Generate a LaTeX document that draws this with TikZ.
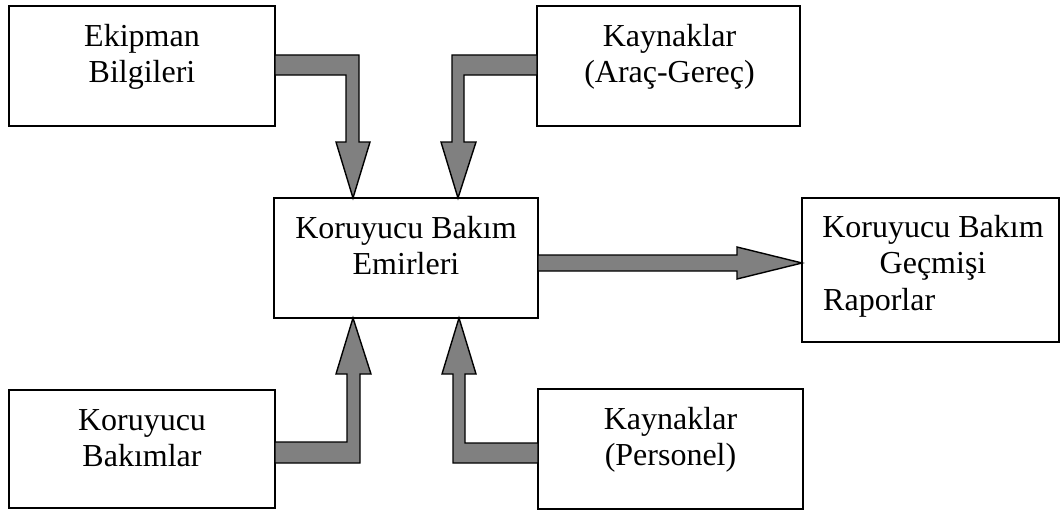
\documentclass[tikz,border=0pt]{standalone}
\usepackage{fontspec}
\setmainfont{Liberation Serif}
\usetikzlibrary{calc}
\begin{document}
\begin{tikzpicture}[x=1pt,y=-1pt,
  box/.style={draw=black,fill=white,line width=1.8pt,inner sep=0pt,outer sep=0pt,anchor=north west},
  txt/.style={anchor=base,inner sep=0pt,font=\fontsize{32}{36}\selectfont},
  barrow/.style={draw=black,fill=black!50,line width=1.4pt,line join=miter}]
\useasboundingbox (0,0) rectangle (1064,511);

% boxes
\node[box,minimum width=266pt,minimum height=120pt] (ekip) at (9,6) {};
\node[box,minimum width=263pt,minimum height=120pt] (kayA) at (537,6) {};
\node[box,minimum width=264pt,minimum height=120pt] (ctr)  at (274,198) {};
\node[box,minimum width=257pt,minimum height=144pt] (hist) at (802,198) {};
\node[box,minimum width=266pt,minimum height=118pt] (bak)  at (9,390) {};
\node[box,minimum width=265pt,minimum height=120pt] (pers) at (538,389) {};

% labels
\node[txt] at ($(ekip.north)+(0,40)$) {Ekipman};
\node[txt] at ($(ekip.north)+(0,76)$) {Bilgileri};
\node[txt] at ($(kayA.north)+(1,40)$) {Kaynaklar};
\node[txt] at ($(kayA.north)+(1,76)$) {(Araç-Gereç)};
\node[txt] at ($(ctr.north)+(0,40)$) {Koruyucu Bakım};
\node[txt] at ($(ctr.north)+(0,76)$) {Emirleri};
\node[txt] at ($(hist.north)+(2.5,39)$) {Koruyucu Bakım};
\node[txt] at ($(hist.north)+(2.5,75)$) {Geçmişi};
\node[txt,anchor=base west] at ($(hist.north west)+(21,112)$) {Raporlar};
\node[txt] at ($(bak.north)+(0,40)$) {Koruyucu};
\node[txt] at ($(bak.north)+(0,76)$) {Bakımlar};
\node[txt] at ($(pers.north)+(0,40)$) {Kaynaklar};
\node[txt] at ($(pers.north)+(0,76)$) {(Personel)};

% arrow tips on the central box
\coordinate (t1) at ($(ctr.north west)+(79,0)$);
\coordinate (t2) at ($(ctr.north west)+(184,0)$);
\coordinate (t3) at ($(hist.north west)+(0,65)$);
\coordinate (t4) at ($(ctr.south west)+(79,0)$);
\coordinate (t5) at ($(ctr.south west)+(185,0)$);

% Ekipman Bilgileri -> Emirleri
\draw[barrow] ($(ekip.north east)+(0,49)$) -| ($(t1)+(6,-56)$) -- ++(11,0) -- (t1)
  -- ++(-17,-56) -- ++(10,0) |- ($(ekip.north east)+(0,69)$) -- cycle;
% Kaynaklar (Araç-Gereç) -> Emirleri
\draw[barrow] ($(kayA.north west)+(0,49)$) -| ($(t2)+(-6,-56)$) -- ++(-11,0) -- (t2)
  -- ++(18,-56) -- ++(-12,0) |- ($(kayA.north west)+(0,69)$) -- cycle;
% Emirleri -> Geçmişi Raporlar
\draw[barrow] ($(ctr.north east)+(0,57)$) -- ($(t3)+(-65,-8)$) -- ++(0,-8) -- (t3)
  -- ++(-65,16) -- ++(0,-8) -- ($(ctr.north east)+(0,73)$) -- cycle;
% Koruyucu Bakımlar -> Emirleri
\draw[barrow] ($(bak.north east)+(0,73)$) -| ($(t4)+(7,56)$) -- ++(11,0) -- (t4)
  -- ++(-17,56) -- ++(11,0) |- ($(bak.north east)+(0,52)$) -- cycle;
% Kaynaklar (Personel) -> Emirleri
\draw[barrow] ($(pers.north west)+(0,74)$) -| ($(t5)+(-6,56)$) -- ++(-11,0) -- (t5)
  -- ++(17,56) -- ++(-11,0) |- ($(pers.north west)+(0,54)$) -- cycle;
\end{tikzpicture}
\end{document}
